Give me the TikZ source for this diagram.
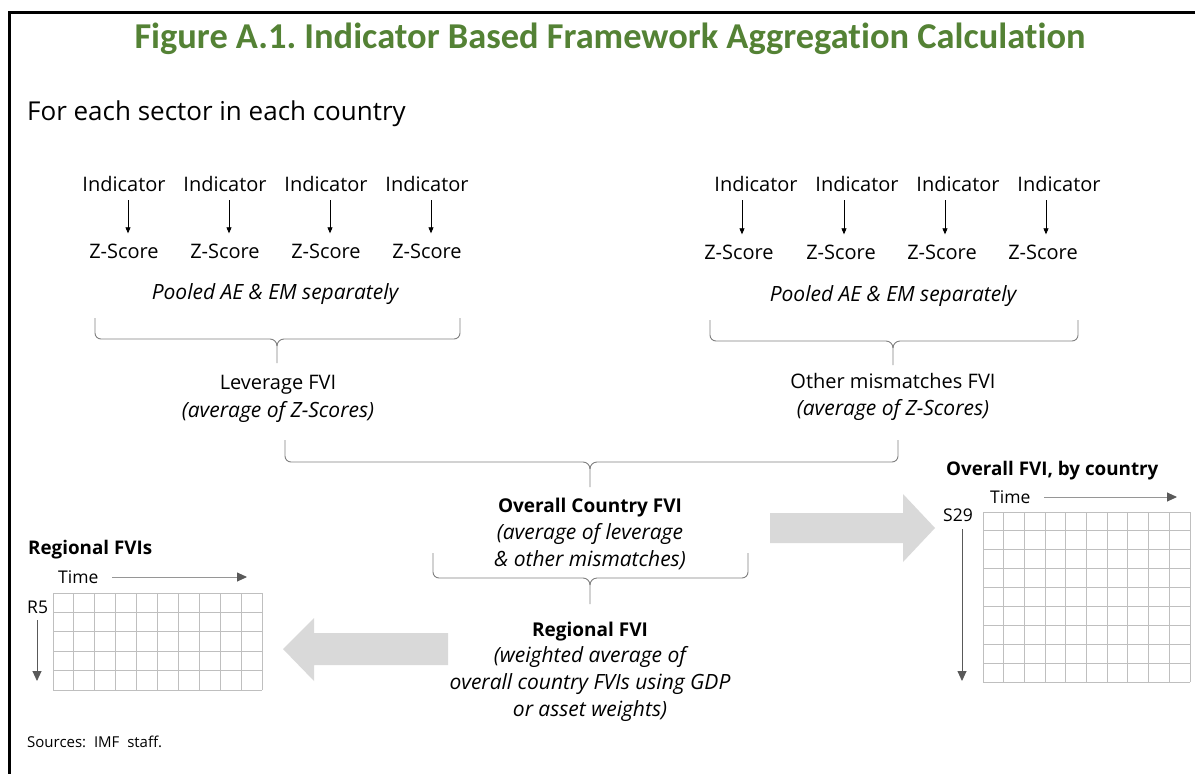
\documentclass[tikz,border=0pt]{standalone}
\usepackage{fontspec}
\setmainfont{Open Sans}
\newfontfamily\titlefont[Ligatures=NoCommon]{Carlito}
\usetikzlibrary{arrows.meta,calc}
\definecolor{titlegreen}{RGB}{84,130,53}
\definecolor{fatgray}{RGB}{217,217,217}
\definecolor{gridgray}{RGB}{191,191,191}
\definecolor{bracegray}{RGB}{128,128,128}
\definecolor{axisgray}{RGB}{89,89,89}
\definecolor{timeline}{RGB}{150,150,150}
\newcommand{\fvibrace}[6]{% x1 x2 xm ytop yh ybot
  \draw[bracestyle] (#1,#4) -- (#1,#5-6) to[out=-90,in=180] (#1+6,#5) -- (#3-7,#5) to[out=0,in=90] (#3,#5+7) -- (#3,#6);
  \draw[bracestyle] (#2,#4) -- (#2,#5-6) to[out=-90,in=0] (#2-6,#5) -- (#3+7,#5) to[out=180,in=90] (#3,#5+7);
}
\frenchspacing
\begin{document}
\begin{tikzpicture}[x=1pt,y=-1pt,
  body/.style={inner sep=0pt, anchor=base, font=\fontsize{20}{22}\selectfont},
  bodyit/.style={body, font=\fontsize{21}{22}\selectfont\itshape},
  bodybf/.style={body, font=\fontsize{19}{22}\selectfont\bfseries},
  small/.style={inner sep=0pt, anchor=base, font=\fontsize{17.5}{20}\selectfont},
  smallbf/.style={small, font=\fontsize{18.8}{20}\selectfont\bfseries},
  zarrow/.style={draw=black, line width=0.8pt, -{Triangle[length=6pt,width=5pt]}},
  bracestyle/.style={draw=bracegray, line width=0.9pt},
  fatarrow/.style={fill=fatgray, draw=none},
  gridline/.style={draw=gridgray, line width=0.9pt},
  timearrow/.style={draw=timeline, line width=0.9pt, -{Triangle[length=10pt,width=9pt,color=axisgray]}},
  axisarrow/.style={draw=axisgray, line width=0.9pt, -{Triangle[length=10pt,width=9pt]}}]
\useasboundingbox (0,0) rectangle (1195,774);
\fill[white] (0,0) rectangle (1195,774);
% frame
\draw[line width=3pt] (9.5,774) -- (9.5,12.5) -- (1195,12.5);
% title
\node[inner sep=0pt, anchor=base, font=\titlefont\bfseries\fontsize{36.4}{40}\selectfont, text=titlegreen] (title) at (610,48) {Figure A.1. Indicator Based Framework Aggregation Calculation};
\node[inner sep=0pt, anchor=base west, font=\fontsize{26}{28}\selectfont] (sector) at (27,120) {For each sector in each country};
% left group
\foreach \i/\x in {1/124,2/225,3/326,4/427}{
  \node[body] (i\i) at (\x,191) {Indicator};
  \node[body] (z\i) at (\x,258) {Z-Score};
  \draw[zarrow] ([xshift=4pt,yshift=-9pt]i\i.south) -- ([xshift=4pt,yshift=10pt]z\i.north);
}
\node[bodyit] (poolL) at (275,299) {Pooled AE \& EM separately};
% right group
\foreach \i/\x/\zx in {5/756/739,6/857/841,7/958/942,8/1059/1043}{
  \node[body] (i\i) at (\x,191) {Indicator};
  \node[body] (z\i) at (\zx,259) {Z-Score};
  \draw[zarrow] ([xshift=3pt,yshift=-9pt]z\i.north |- i\i.south) -- ([xshift=3pt,yshift=10pt]z\i.north);
}
\node[bodyit] (poolR) at (893,301) {Pooled AE \& EM separately};
% braces
\fvibrace{95}{460}{277}{318}{339}{363}
\fvibrace{710}{1078}{893}{320}{341}{365}
\fvibrace{285}{898}{590}{440}{462}{487}
\fvibrace{433}{748}{590}{553}{578}{604}
% leverage / other
\node[body] (lev1) at (278,389) {Leverage FVI};
\node[bodyit] (lev2) at (278,417) {(average of Z-Scores)};
\node[body] (oth1) at (893,388) {Other mismatches FVI};
\node[bodyit] (oth2) at (893,415) {(average of Z-Scores)};
% overall
\node[bodybf] (ov1) at (590,512) {Overall Country FVI};
\node[bodyit] (ov2) at (590,539) {(average of leverage};
\node[bodyit] (ov3) at (590,566) {\& other mismatches)};
% regional
\node[bodybf] (rg1) at (590,636) {Regional FVI};
\node[bodyit] (rg2) at (590,662) {(weighted average of};
\node[bodyit] (rg3) at (590,689) {overall country FVIs using GDP};
\node[bodyit] (rg4) at (590,716) {or asset weights)};
% fat arrows
\fill[fatarrow] (770,513) -- (903,513) -- (903,494) -- (935,528) -- (903,562) -- (903,543) -- (770,543) -- cycle;
\fill[fatarrow] (448,633) -- (314,633) -- (314,618) -- (283,649) -- (314,681) -- (314,665) -- (448,665) -- cycle;
% left grid
\foreach \k in {0,...,10}{\draw[gridline] ({53+\k*20.9},593) -- ({53+\k*20.9},690);}
\foreach \k in {0,...,5}{\draw[gridline] (53,{593+\k*19.4}) -- (262,{593+\k*19.4});}
\node[smallbf, anchor=base west] (regT) at (28,554) {Regional FVIs};
\node[small, anchor=base west] (timeL) at (58,583) {Time};
\coordinate (timeLend) at (247,577);
\draw[timearrow] (112,577) -- (timeLend);
\node[small, anchor=base west] (r5) at (27,613) {R5};
\coordinate (r5end) at (37,681);
\draw[axisarrow] ([yshift=-7pt]r5.south -| r5end) -- (r5end);
% right grid
\foreach \k in {0,...,10}{\draw[gridline] ({983+\k*20.7},512) -- ({983+\k*20.7},682);}
\foreach \k in {0,...,9}{\draw[gridline] (983,{512+\k*18.89}) -- (1190,{512+\k*18.89});}
\node[smallbf, anchor=base west] (ovT) at (946,475) {Overall FVI, by country};
\node[small, anchor=base west] (timeR) at (990,503) {Time};
\coordinate (timeRend) at (1177,497);
\draw[timearrow] (1044,497) -- (timeRend);
\node[small, anchor=base west] (s29) at (943,521) {S29};
\coordinate (s29end) at (962,681);
\draw[axisarrow] ([yshift=-8pt]s29.south -| s29end) -- (s29end);
% sources
\node[inner sep=0pt, anchor=base west, font=\fontsize{15}{17}\selectfont] (src) at (27,747) {Sources:\ \ IMF\ \ staff.};
\end{tikzpicture}
\end{document}
